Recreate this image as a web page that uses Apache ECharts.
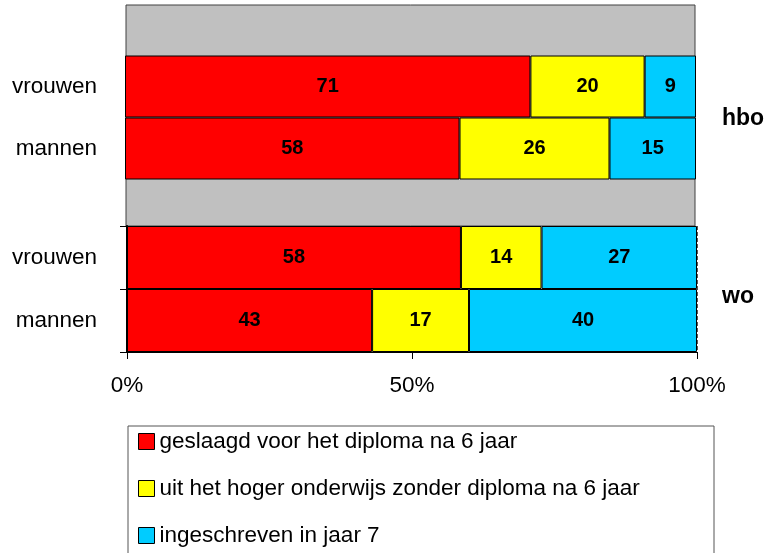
<!DOCTYPE html>
<html><head><meta charset="utf-8">
<script src="https://cdn.jsdelivr.net/npm/echarts@6/dist/echarts.min.js"></script>
<style>html,body{margin:0;padding:0;background:#fff}#c{width:765px;height:553px}</style>
</head><body><div id="c"></div>
<script>
const categories = ['vrouwen', 'mannen'];
const groups = ['hbo', 'wo'];
const seriesNames = ['geslaagd voor het diploma na 6 jaar', 'uit het hoger onderwijs zonder diploma na 6 jaar', 'ingeschreven in jaar 7'];
const colors = ['#FF0000', '#FFFF00', '#00CCFF'];
// values per group, per series, in category order [vrouwen, mannen]
const hboGeslaagd = [71, 58];
const hboZonder = [20, 26];
const hboIngeschreven = [9, 15];
const woGeslaagd = [58, 43];
const woZonder = [14, 17];
const woIngeschreven = [27, 40];
const xTicks = [0, 50, 100];

const font = 'Liberation Sans, Arial, sans-serif';
const groupData = {
  hbo: [hboGeslaagd, hboZonder, hboIngeschreven],
  wo: [woGeslaagd, woZonder, woIngeschreven]
};

function pctData(arrs, si) {
  return categories.map((c, ci) => {
    const total = arrs.reduce((s, a) => s + a[ci], 0);
    return { value: arrs[si][ci] / total * 100, raw: arrs[si][ci] };
  });
}

const series = [];
groups.forEach((g, gi) => {
  seriesNames.forEach((n, si) => {
    series.push({
      name: n, type: 'bar', stack: g,
      xAxisIndex: gi + 1, yAxisIndex: gi + 1,
      barCategoryGap: '0%',
      data: pctData(groupData[g], si),
      itemStyle: { color: colors[si], borderColor: '#000', borderWidth: 1 },
      label: { show: true, position: 'inside', color: '#000', fontFamily: font, fontWeight: 'bold', fontSize: 20,
        formatter: p => p.data.raw },
      emphasis: { disabled: true }
    });
  });
});

const chart = echarts.init(document.getElementById('c'), null, { renderer: 'canvas' });
chart.setOption({
  animation: false,
  textStyle: { fontFamily: font },
  grid: [
    { left: 126, top: 5, width: 569, height: 221, show: true, backgroundColor: '#C0C0C0', borderColor: '#404040', borderWidth: 1 },
    { left: 125, top: 55.5, width: 571, height: 124 },
    { left: 127, top: 226, width: 570, height: 126 }
  ],
  xAxis: [
    { gridIndex: 0, type: 'value', show: false },
    { gridIndex: 1, type: 'value', min: 0, max: 100, show: false },
    { gridIndex: 2, type: 'value', min: xTicks[0], max: xTicks[2], interval: xTicks[1] - xTicks[0],
      axisLine: { show: true, lineStyle: { color: '#000', width: 1 } },
      axisTick: { show: true, length: 7, lineStyle: { color: '#000' } },
      axisLabel: { fontSize: 22.5, color: '#000', margin: 22, formatter: '{value}%', fontFamily: font },
      splitLine: { show: true, lineStyle: { color: '#555', type: 'dashed' } }
    }
  ],
  yAxis: [
    { gridIndex: 0, type: 'category', data: ['a'], show: false },
    { gridIndex: 1, type: 'category', data: categories, inverse: true,
      axisLine: { show: false }, axisTick: { show: false },
      axisLabel: { fontSize: 22.5, color: '#000', margin: 28, fontFamily: font } },
    { gridIndex: 2, type: 'category', data: categories, inverse: true,
      axisLine: { show: true, lineStyle: { color: '#000', width: 2 } },
      axisTick: { show: true, length: 7, lineStyle: { color: '#000' } },
      axisLabel: { fontSize: 22.5, color: '#000', margin: 30, fontFamily: font } }
  ],
  legend: {
    orient: 'vertical', left: 138, top: 430, height: 200, padding: 0,
    itemWidth: 16, itemHeight: 16, itemGap: 24, icon: 'rect',
    itemStyle: { borderColor: '#000', borderWidth: 1 },
    textStyle: { fontSize: 22.5, color: '#000', fontFamily: font, lineHeight: 22 },
    data: seriesNames
  },
  graphic: [
    { type: 'rect', shape: { x: 128, y: 426, width: 586, height: 140 }, style: { fill: 'none', stroke: '#555', lineWidth: 1 }, z: 100 },
    { type: 'text', left: 722, top: 107, style: { text: groups[0], font: 'bold 23px ' + font, fill: '#000' } },
    { type: 'text', left: 722, top: 285, style: { text: groups[1], font: 'bold 23px ' + font, fill: '#000' } }
  ],
  series: series
});
</script></body></html>
